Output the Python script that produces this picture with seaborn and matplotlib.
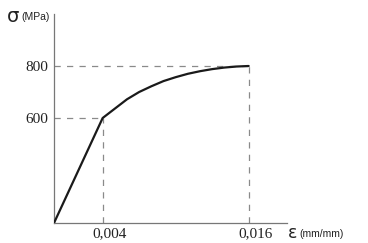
import numpy as np
import pandas as pd
import matplotlib
matplotlib.use("Agg")
import matplotlib.pyplot as plt
import matplotlib.transforms as mtransforms
import seaborn as sns

# Data
strain = [0.0, 0.004, 0.005, 0.006, 0.007, 0.008, 0.009, 0.010, 0.011,
          0.012, 0.013, 0.014, 0.015, 0.016]
stress = [0, 600, 636, 672, 700, 722, 742, 757, 770, 780, 788, 794, 798, 800]
xtick_vals = [0.004, 0.016]
xtick_labels = ["0,004", "0,016"]
ytick_vals = [600, 800]
ytick_labels = ["600", "800"]

df = pd.DataFrame({"strain": strain, "stress": stress})

sns.set_style("white")
plt.rcParams["font.family"] = ["Liberation Serif", "DejaVu Serif"]

fig = plt.figure(figsize=(3.68, 2.43), dpi=100)
ax = fig.add_axes([54 / 368, 20 / 243, 233 / 368, 209 / 243])

# piecewise-linear schematic y scale (0-600 compressed as in the sketch)
def fwd(y):
    y = np.asarray(y, dtype=float)
    return np.where(y <= 600, y * 105 / 600, 105 + (y - 600) * 52 / 200)

def inv(v):
    v = np.asarray(v, dtype=float)
    return np.where(v <= 105, v * 600 / 105, 600 + (v - 105) * 200 / 52)

ax.set_yscale("function", functions=(fwd, inv))

dash_kw = dict(color="#8a8a8a", lw=0.9, ls=(0, (5, 5)), zorder=1)
for xv, yv in zip(xtick_vals, ytick_vals):
    ax.plot([0, xv], [yv, yv], **dash_kw)
    ax.plot([xv, xv], [0, yv], **dash_kw)

sns.lineplot(data=df, x="strain", y="stress", ax=ax, color="#1a1a1a",
             lw=1.6, sort=False, zorder=3)

ax.set_xlim(0, 0.01915)
ax.set_ylim(0, 1000)
ax.set_xticks(xtick_vals)
ax.set_xticklabels(xtick_labels)
ax.set_yticks(ytick_vals)
ax.set_yticklabels(ytick_labels)
ax.tick_params(length=0, labelsize=11, colors="#222222")
ax.tick_params(axis="y", pad=4)
ax.tick_params(axis="x", pad=3)
shift = mtransforms.ScaledTranslation(7 / 100, 0, fig.dpi_scale_trans)
for lab in ax.get_xticklabels():
    lab.set_transform(lab.get_transform() + shift)
ax.set_xlabel("")
ax.set_ylabel("")
for s in ["top", "right"]:
    ax.spines[s].set_visible(False)
for s in ["left", "bottom"]:
    ax.spines[s].set_color("#777777")
    ax.spines[s].set_linewidth(0.9)

fig.text(7 / 368, 1 - 17 / 243, "σ", fontsize=14, va="center", ha="left",
         family=["DejaVu Sans"], color="#222222")
fig.text(21 / 368, 1 - 17 / 243, "(MPa)", fontsize=7.5, va="center", ha="left",
         family=["Liberation Sans"], color="#222222")
fig.text(288 / 368, 1 - 233 / 243, "ε", fontsize=12.5, va="center", ha="left",
         family=["DejaVu Sans"], color="#222222")
fig.text(299 / 368, 1 - 234 / 243, "(mm/mm)", fontsize=7.5, va="center", ha="left",
         family=["Liberation Sans"], color="#222222")

fig.savefig("out.png", dpi=100)
